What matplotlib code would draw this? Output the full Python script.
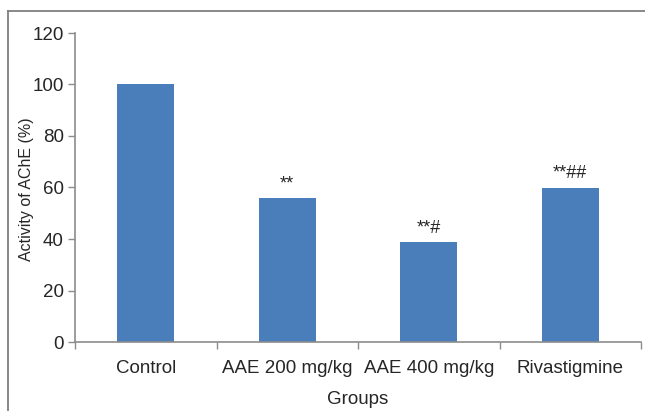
import matplotlib.pyplot as plt
import numpy as np
from matplotlib.lines import Line2D

groups = ["Control", "AAE 200 mg/kg", "AAE 400 mg/kg", "Rivastigmine"]
activity = [100, 56, 38.8, 59.8]
marks = ["", "**", "**#", "**##"]

plt.rcParams['font.family'] = ['Liberation Sans', 'DejaVu Sans']
txt = '#262626'
axc = '#8c8c8c'
fs = 13.5

fig = plt.figure(figsize=(6.45, 4.11), dpi=100)
# outer frame (only left and top edges fall inside the picture)
fx, fy = 7.5 / 645, 1 - 11.5 / 411
fig.add_artist(Line2D([fx, fx], [-0.05, fy], transform=fig.transFigure, color='#7f7f7f', lw=1.3))
fig.add_artist(Line2D([fx, 1.05], [fy, fy], transform=fig.transFigure, color='#7f7f7f', lw=1.3))

ax = fig.add_axes([75 / 645, 1 - 342 / 411, (641 - 75) / 645, (342 - 33) / 411])
x = np.arange(len(groups))
ax.bar(x, activity, width=0.4, color='#4a7ebb')

for xi, v, m in zip(x, activity, marks):
    if m:
        ax.annotate(m, (xi, v), xytext=(0, 4), textcoords='offset points',
                    ha='center', va='bottom', fontsize=13, color=txt)

ax.set_xlim(-0.5, len(groups) - 0.5)
ax.set_ylim(0, 120)
ax.set_yticks(range(0, 121, 20))
ax.set_xticks(x)
ax.set_xticklabels(groups)
ax.set_xticks(np.arange(-0.5, len(groups), 1), minor=True)
ax.tick_params(axis='x', which='major', length=0, pad=13, labelsize=fs, labelcolor=txt)
ax.tick_params(axis='x', which='minor', length=5, color=axc, width=1)
ax.tick_params(axis='y', length=5, color=axc, width=1, labelsize=fs, labelcolor=txt, pad=3)

for s in ['top', 'right']:
    ax.spines[s].set_visible(False)
for s in ['left', 'bottom']:
    ax.spines[s].set_color(axc)
    ax.spines[s].set_linewidth(1.2)

ax.set_xlabel("Groups", fontsize=fs, color=txt, labelpad=10)
fig.text(27 / 645, 1 - 189 / 411, "Activity of AChE (%)", rotation=90,
         ha='center', va='center', fontsize=11.5, color=txt)

fig.savefig("out.png", dpi=100)
